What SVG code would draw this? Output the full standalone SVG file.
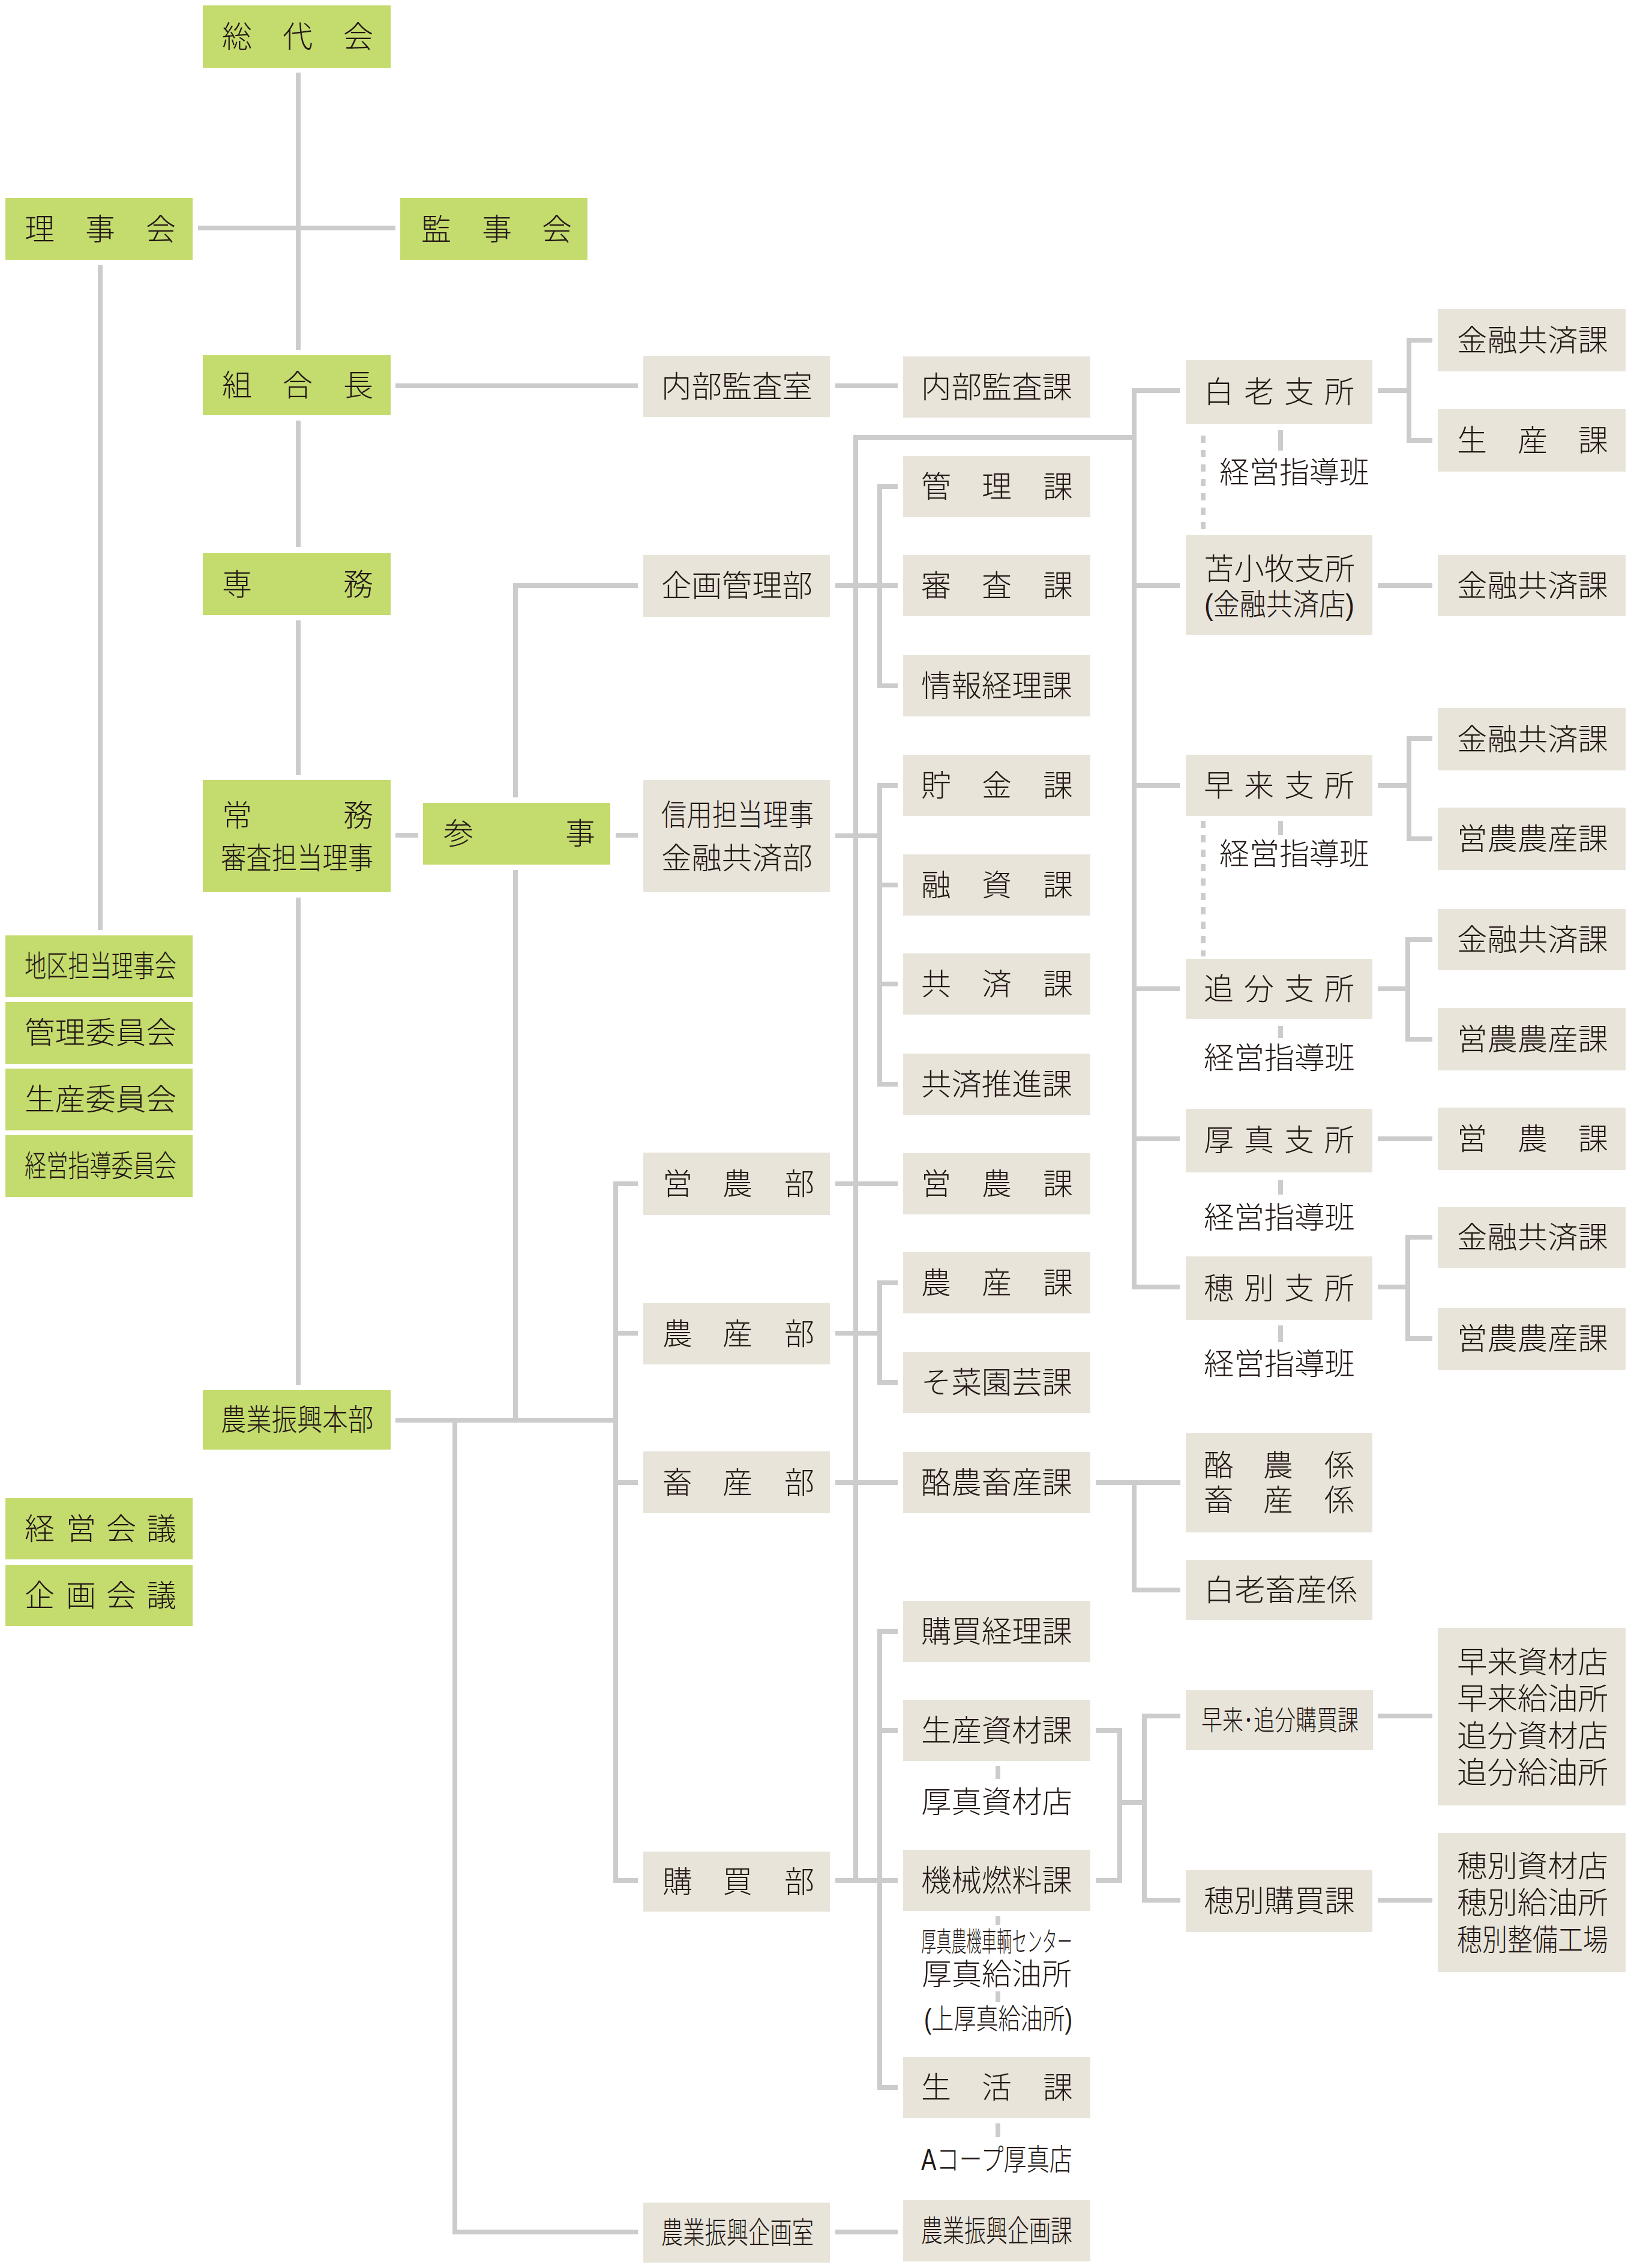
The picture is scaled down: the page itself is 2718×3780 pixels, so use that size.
<svg xmlns="http://www.w3.org/2000/svg" width="2718" height="3780" viewBox="0 0 2718 3780">
<style>
.g{fill:#c4db6e}
.b{fill:#e8e4da}
.t{font-family:"Liberation Sans","Noto Sans CJK JP","Noto Sans CJK SC",sans-serif;font-size:50px;fill:#231815;font-weight:300}
.ln{stroke:#cccccc;stroke-width:8;fill:none;stroke-linecap:butt;stroke-linejoin:miter}
.ds{stroke-dasharray:12 12}
</style>
<rect x="0" y="0" width="2718" height="3780" fill="#ffffff"/>
<g id="connectors" class="ln">
<path d="M497 121V583"/>
<path d="M330 380H659"/>
<path d="M659 643H1063"/>
<path d="M497 701V912"/>
<path d="M497 1034V1292"/>
<path d="M497 1496V2308"/>
<path d="M167 442V1550"/>
<path d="M659 1392H697"/>
<path d="M1026 1392H1063"/>
<path d="M859 1329V976H1063"/>
<path d="M859 1450V2367"/>
<path d="M659 2367H1026"/>
<path d="M1063 1973H1026V3134H1063"/>
<path d="M1026 2222H1063"/>
<path d="M1026 2471H1063"/>
<path d="M758 2367V3720H1063"/>
<path d="M1392 643H1496"/>
<path d="M1392 976H1496"/>
<path d="M1496 811H1466V1143H1496"/>
<path d="M1392 1393H1466"/>
<path d="M1496 1309H1466V1807H1496"/>
<path d="M1466 1475H1496"/>
<path d="M1466 1640H1496"/>
<path d="M1392 1973H1496"/>
<path d="M1392 2222H1466"/>
<path d="M1496 2138H1466V2304H1496"/>
<path d="M1392 2471H1496"/>
<path d="M1392 3134H1496"/>
<path d="M1496 2719H1466V3479H1496"/>
<path d="M1466 2884H1496"/>
<path d="M1392 3720H1496"/>
<path d="M1426 3134V729H1890"/>
<path d="M1966 651H1890V2145H1966"/>
<path d="M1890 976H1966"/>
<path d="M1890 1309H1966"/>
<path d="M1890 1648H1966"/>
<path d="M1890 1898H1966"/>
<path d="M2296 651H2348"/>
<path d="M2387 567H2348V734H2387"/>
<path d="M2296 976H2387"/>
<path d="M2296 1309H2348"/>
<path d="M2387 1231H2348V1398H2387"/>
<path d="M2296 1648H2346"/>
<path d="M2387 1566H2346V1732H2387"/>
<path d="M2296 1898H2387"/>
<path d="M2296 2145H2346"/>
<path d="M2387 2062H2346V2231H2387"/>
<path d="M1826 2471H1967"/>
<path d="M1890 2471V2650H1967"/>
<path d="M1826 2884H1866V3134H1826"/>
<path d="M1866 3004H1907"/>
<path d="M1967 2860H1907V3167H1967"/>
<path d="M2296 2860H2387"/>
<path d="M2296 3167H2387"/>
<path class="ds" d="M2005 726V882"/>
<path class="ds" d="M2005 1368V1594"/>
<path d="M2134 717V751"/>
<path d="M2134 1368V1392"/>
<path d="M2134 1710V1730"/>
<path d="M2134 1967V1991"/>
<path d="M2134 2209V2237"/>
<path d="M1663 2943V2965"/>
<path d="M1663 3193V3208"/>
<path d="M1663 3319V3337"/>
<path d="M1663 3539V3562"/>
</g>
<g id="n-soudaikai"><rect class="g" x="338" y="9" width="313" height="104"/><text class="t" x="370 471 572" y="79">総代会</text></g>
<g id="n-rijikai"><rect class="g" x="9" y="330" width="312" height="103"/><text class="t" x="41 142 243" y="400">理事会</text></g>
<g id="n-kanjikai"><rect class="g" x="667" y="330" width="312" height="103"/><text class="t" x="702 803 903" y="400">監事会</text></g>
<g id="n-kumiaicho"><rect class="g" x="338" y="592" width="313" height="100"/><text class="t" x="370 471 572" y="660">組合長</text></g>
<g id="n-senmu"><rect class="g" x="338" y="922" width="313" height="103"/><text class="t" x="370 572" y="992">専務</text></g>
<g id="n-jomu"><rect class="g" x="338" y="1300" width="313" height="187"/><text class="t" x="370 572" y="1377">常務</text><text class="t" x="368" y="1448" textLength="254" lengthAdjust="spacingAndGlyphs">審査担当理事</text></g>
<g id="n-sanji"><rect class="g" x="705" y="1338" width="312" height="103"/><text class="t" x="739 942" y="1407">参事</text></g>
<g id="n-chiku"><rect class="g" x="9" y="1559" width="312" height="103"/><text class="t" x="41" y="1628" textLength="253" lengthAdjust="spacingAndGlyphs">地区担当理事会</text></g>
<g id="n-kanri-iinkai"><rect class="g" x="9" y="1670" width="312" height="103"/><text class="t" x="41" y="1739" textLength="253" lengthAdjust="spacingAndGlyphs">管理委員会</text></g>
<g id="n-seisan-iinkai"><rect class="g" x="9" y="1781" width="312" height="103"/><text class="t" x="41" y="1850" textLength="253" lengthAdjust="spacingAndGlyphs">生産委員会</text></g>
<g id="n-keieishido-iinkai"><rect class="g" x="9" y="1892" width="312" height="103"/><text class="t" x="41" y="1961" textLength="253" lengthAdjust="spacingAndGlyphs">経営指導委員会</text></g>
<g id="n-honbu"><rect class="g" x="338" y="2317" width="313" height="99"/><text class="t" x="368" y="2384" textLength="254" lengthAdjust="spacingAndGlyphs">農業振興本部</text></g>
<g id="n-keiei-kaigi"><rect class="g" x="9" y="2497" width="312" height="102"/><text class="t" x="41 110 177 244" y="2566">経営会議</text></g>
<g id="n-kikaku-kaigi"><rect class="g" x="9" y="2608" width="312" height="102"/><text class="t" x="41 110 177 244" y="2677">企画会議</text></g>
<g id="n-naibukansashitsu"><rect class="b" x="1072" y="593" width="311" height="102"/><text class="t" x="1102" y="662" textLength="252" lengthAdjust="spacingAndGlyphs">内部監査室</text></g>
<g id="n-kikakukanribu"><rect class="b" x="1072" y="925" width="311" height="103"/><text class="t" x="1102" y="994" textLength="252" lengthAdjust="spacingAndGlyphs">企画管理部</text></g>
<g id="n-shinyo"><rect class="b" x="1072" y="1300" width="311" height="187"/><text class="t" x="1102" y="1376" textLength="254" lengthAdjust="spacingAndGlyphs">信用担当理事</text><text class="t" x="1102" y="1448" textLength="252" lengthAdjust="spacingAndGlyphs">金融共済部</text></g>
<g id="n-einobu"><rect class="b" x="1072" y="1921" width="311" height="104"/><text class="t" x="1104 1204 1307" y="1991">営農部</text></g>
<g id="n-nosanbu"><rect class="b" x="1072" y="2172" width="311" height="102"/><text class="t" x="1104 1204 1307" y="2241">農産部</text></g>
<g id="n-chikusanbu"><rect class="b" x="1072" y="2419" width="311" height="103"/><text class="t" x="1104 1204 1307" y="2489">畜産部</text></g>
<g id="n-kobaibu"><rect class="b" x="1072" y="3086" width="311" height="100"/><text class="t" x="1104 1204 1307" y="3154">購買部</text></g>
<g id="n-kikakushitsu"><rect class="b" x="1072" y="3671" width="311" height="100"/><text class="t" x="1102" y="3739" textLength="254" lengthAdjust="spacingAndGlyphs">農業振興企画室</text></g>
<g id="n-naibukansaka"><rect class="b" x="1505" y="594" width="312" height="102"/><text class="t" x="1535" y="663" textLength="252" lengthAdjust="spacingAndGlyphs">内部監査課</text></g>
<g id="n-kanrika"><rect class="b" x="1505" y="760" width="312" height="102"/><text class="t" x="1535 1636 1738" y="829">管理課</text></g>
<g id="n-shinsaka"><rect class="b" x="1505" y="925" width="312" height="102"/><text class="t" x="1535 1636 1738" y="994">審査課</text></g>
<g id="n-johokeirika"><rect class="b" x="1505" y="1092" width="312" height="102"/><text class="t" x="1535" y="1161" textLength="252" lengthAdjust="spacingAndGlyphs">情報経理課</text></g>
<g id="n-chokinka"><rect class="b" x="1505" y="1258" width="312" height="102"/><text class="t" x="1535 1636 1738" y="1327">貯金課</text></g>
<g id="n-yushika"><rect class="b" x="1505" y="1424" width="312" height="102"/><text class="t" x="1535 1636 1738" y="1493">融資課</text></g>
<g id="n-kyosaika"><rect class="b" x="1505" y="1589" width="312" height="102"/><text class="t" x="1535 1636 1738" y="1658">共済課</text></g>
<g id="n-kyosaisuishinka"><rect class="b" x="1505" y="1756" width="312" height="102"/><text class="t" x="1535" y="1825" textLength="252" lengthAdjust="spacingAndGlyphs">共済推進課</text></g>
<g id="n-einoka"><rect class="b" x="1505" y="1922" width="312" height="102"/><text class="t" x="1535 1636 1738" y="1991">営農課</text></g>
<g id="n-nosanka"><rect class="b" x="1505" y="2087" width="312" height="102"/><text class="t" x="1535 1636 1738" y="2156">農産課</text></g>
<g id="n-saienka"><rect class="b" x="1505" y="2253" width="312" height="102"/><text class="t" x="1535" y="2322" textLength="252" lengthAdjust="spacingAndGlyphs">そ菜園芸課</text></g>
<g id="n-rakuno-chikusanka"><rect class="b" x="1505" y="2420" width="312" height="102"/><text class="t" x="1535" y="2489" textLength="252" lengthAdjust="spacingAndGlyphs">酪農畜産課</text></g>
<g id="n-kobaikeirika"><rect class="b" x="1505" y="2668" width="312" height="102"/><text class="t" x="1535" y="2737" textLength="252" lengthAdjust="spacingAndGlyphs">購買経理課</text></g>
<g id="n-seisanshizaika"><rect class="b" x="1505" y="2833" width="312" height="102"/><text class="t" x="1535" y="2902" textLength="252" lengthAdjust="spacingAndGlyphs">生産資材課</text></g>
<g id="n-atsuma-shizaiten"><text class="t" x="1535" y="3021" textLength="252" lengthAdjust="spacingAndGlyphs">厚真資材店</text></g>
<g id="n-kikainenryoka"><rect class="b" x="1505" y="3083" width="312" height="102"/><text class="t" x="1535" y="3152" textLength="252" lengthAdjust="spacingAndGlyphs">機械燃料課</text></g>
<g id="n-atsuma-noki"><text class="t" x="1535" y="3252" textLength="252" lengthAdjust="spacingAndGlyphs" style="font-size:46px">厚真農機車輌センター</text></g>
<g id="n-atsuma-kyuyujo"><text class="t" x="1536" y="3308" textLength="250" lengthAdjust="spacingAndGlyphs">厚真給油所</text></g>
<g id="n-kamiatsuma"><text class="t" x="1540" y="3381" textLength="247" lengthAdjust="spacingAndGlyphs" style="font-size:47px">(上厚真給油所)</text></g>
<g id="n-seikatsuka"><rect class="b" x="1505" y="3428" width="312" height="102"/><text class="t" x="1535 1636 1738" y="3497">生活課</text></g>
<g id="n-acoop"><text class="t" x="1535" y="3617" textLength="252" lengthAdjust="spacingAndGlyphs">Aコープ厚真店</text></g>
<g id="n-kikakuka"><rect class="b" x="1505" y="3667" width="312" height="102"/><text class="t" x="1535" y="3736" textLength="252" lengthAdjust="spacingAndGlyphs">農業振興企画課</text></g>
<g id="n-shiraoi"><rect class="b" x="1976" y="600" width="311" height="107"/><text class="t" x="2006 2073 2140 2207" y="671">白老支所</text></g>
<g id="n-shiraoi-shido"><text class="t" x="2032" y="805" textLength="250" lengthAdjust="spacingAndGlyphs">経営指導班</text></g>
<g id="n-tomakomai"><rect class="b" x="1976" y="892" width="311" height="166"/><text class="t" x="2006" y="966" textLength="252" lengthAdjust="spacingAndGlyphs">苫小牧支所</text><text class="t" x="2007" y="1025" textLength="250" lengthAdjust="spacingAndGlyphs">(金融共済店)</text></g>
<g id="n-hayakita"><rect class="b" x="1976" y="1258" width="311" height="102"/><text class="t" x="2006 2073 2140 2207" y="1327">早来支所</text></g>
<g id="n-hayakita-shido"><text class="t" x="2032" y="1441" textLength="250" lengthAdjust="spacingAndGlyphs">経営指導班</text></g>
<g id="n-oiwake"><rect class="b" x="1976" y="1598" width="311" height="100"/><text class="t" x="2006 2073 2140 2207" y="1666">追分支所</text></g>
<g id="n-oiwake-shido"><text class="t" x="2006" y="1781" textLength="252" lengthAdjust="spacingAndGlyphs">経営指導班</text></g>
<g id="n-atsuma"><rect class="b" x="1976" y="1848" width="311" height="106"/><text class="t" x="2006 2073 2140 2207" y="1918">厚真支所</text></g>
<g id="n-atsuma-shido"><text class="t" x="2006" y="2047" textLength="252" lengthAdjust="spacingAndGlyphs">経営指導班</text></g>
<g id="n-mukawa"><rect class="b" x="1976" y="2094" width="311" height="106"/><text class="t" x="2006 2073 2140 2207" y="2165">穂別支所</text></g>
<g id="n-mukawa-shido"><text class="t" x="2006" y="2291" textLength="252" lengthAdjust="spacingAndGlyphs">経営指導班</text></g>
<g id="n-rakuno-kakari"><rect class="b" x="1976" y="2388" width="311" height="166"/><text class="t" x="2006 2105 2207" y="2460">酪農係</text><text class="t" x="2006 2105 2207" y="2518">畜産係</text></g>
<g id="n-shiraoi-chikusan"><rect class="b" x="1976" y="2600" width="311" height="100"/><text class="t" x="2006" y="2668" textLength="256" lengthAdjust="spacingAndGlyphs">白老畜産係</text></g>
<g id="n-hayakita-oiwake-kobai"><rect class="b" x="1976" y="2817" width="312" height="100"/><text class="t" x="2002" y="2883" textLength="262" lengthAdjust="spacingAndGlyphs" style="font-size:46px">早来･追分購買課</text></g>
<g id="n-mukawa-kobai"><rect class="b" x="1976" y="3117" width="311" height="103"/><text class="t" x="2006" y="3186" textLength="252" lengthAdjust="spacingAndGlyphs">穂別購買課</text></g>
<g id="n-shiraoi-kinyu"><rect class="b" x="2396" y="515" width="313" height="104"/><text class="t" x="2428" y="585" textLength="252" lengthAdjust="spacingAndGlyphs">金融共済課</text></g>
<g id="n-shiraoi-seisan"><rect class="b" x="2396" y="682" width="313" height="104"/><text class="t" x="2428 2529 2630" y="752">生産課</text></g>
<g id="n-tomakomai-kinyu"><rect class="b" x="2396" y="925" width="313" height="102"/><text class="t" x="2428" y="994" textLength="252" lengthAdjust="spacingAndGlyphs">金融共済課</text></g>
<g id="n-hayakita-kinyu"><rect class="b" x="2396" y="1180" width="313" height="104"/><text class="t" x="2428" y="1250" textLength="252" lengthAdjust="spacingAndGlyphs">金融共済課</text></g>
<g id="n-hayakita-eino"><rect class="b" x="2396" y="1346" width="313" height="104"/><text class="t" x="2428" y="1416" textLength="252" lengthAdjust="spacingAndGlyphs">営農農産課</text></g>
<g id="n-oiwake-kinyu"><rect class="b" x="2396" y="1515" width="313" height="102"/><text class="t" x="2428" y="1584" textLength="252" lengthAdjust="spacingAndGlyphs">金融共済課</text></g>
<g id="n-oiwake-eino"><rect class="b" x="2396" y="1680" width="313" height="104"/><text class="t" x="2428" y="1750" textLength="252" lengthAdjust="spacingAndGlyphs">営農農産課</text></g>
<g id="n-atsuma-eino"><rect class="b" x="2396" y="1846" width="313" height="104"/><text class="t" x="2428 2529 2630" y="1916">営農課</text></g>
<g id="n-mukawa-kinyu"><rect class="b" x="2396" y="2012" width="313" height="101"/><text class="t" x="2428" y="2080" textLength="252" lengthAdjust="spacingAndGlyphs">金融共済課</text></g>
<g id="n-mukawa-eino"><rect class="b" x="2396" y="2180" width="313" height="103"/><text class="t" x="2428" y="2249" textLength="252" lengthAdjust="spacingAndGlyphs">営農農産課</text></g>
<g id="n-hayakita-shizai"><rect class="b" x="2396" y="2713" width="313" height="296"/><text class="t" x="2428" y="2788" textLength="252" lengthAdjust="spacingAndGlyphs">早来資材店</text><text class="t" x="2428" y="2849" textLength="252" lengthAdjust="spacingAndGlyphs">早来給油所</text><text class="t" x="2428" y="2911" textLength="252" lengthAdjust="spacingAndGlyphs">追分資材店</text><text class="t" x="2428" y="2972" textLength="252" lengthAdjust="spacingAndGlyphs">追分給油所</text></g>
<g id="n-mukawa-shizai"><rect class="b" x="2396" y="3055" width="313" height="232"/><text class="t" x="2428" y="3128" textLength="252" lengthAdjust="spacingAndGlyphs">穂別資材店</text><text class="t" x="2428" y="3189" textLength="252" lengthAdjust="spacingAndGlyphs">穂別給油所</text><text class="t" x="2428" y="3251" textLength="252" lengthAdjust="spacingAndGlyphs">穂別整備工場</text></g>
</svg>
